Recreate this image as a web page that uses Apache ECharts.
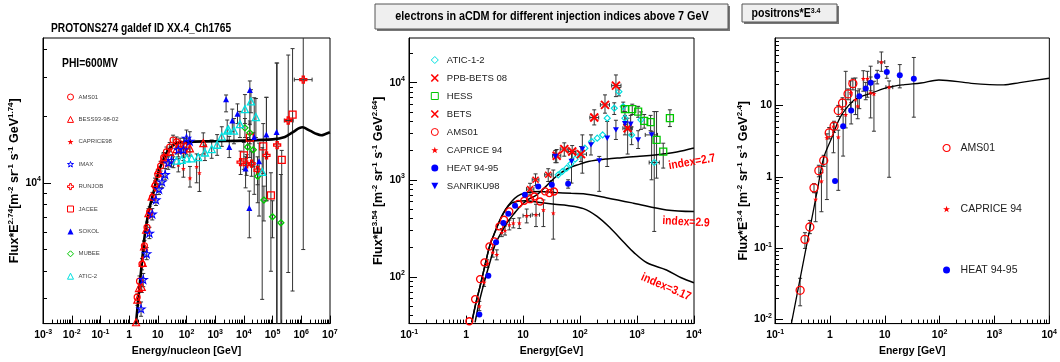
<!DOCTYPE html>
<html><head><meta charset="utf-8">
<script src="https://cdn.jsdelivr.net/npm/echarts@6/dist/echarts.min.js"></script>
<style>html,body{margin:0;padding:0;background:#fff}#c{width:1060px;height:362px}</style>
</head><body><div id="c"></div>
<script>
// ---------------- DATA ----------------
// rows: [E, F, Flow, Fhigh, Elow, Ehigh]
const p1_curve = [[1.72,2300],[2.2,3200],[2.8,4400],[3.6,5960],[5,7600],[7,9000],[10,10900],[15.5,12700],[25,14200],[45,15100],[100,15300],[1000,15400],[1e4,15500],[1e5,15700],[2.7e5,16100],[5e5,16900],[1.1e6,17800],[2e6,17200],[3.5e6,16600],[5e6,16400],[7e6,16600],[1e7,16900]];
const p1_AMS01 = [[1.9,3050],[2.3,3600,3400,3800],[2.8,4300,4050,4550],[3.4,5200,4900,5500],[4.2,6300,5950,6650],[5.2,7400,7000,7800],[6.5,8600,8150,9050],[8,9700,9200,10200],[10,10900,10300,11500],[12.5,11900,11300,12500],[16,13000,12300,13700],[20,13800,13100,14500],[26,14500,13800,15200],[34,15600,14800,16400],[45,15300,14500,16100],[60,15000,14100,15900],[80,14800,13700,15900],[100,14600,13400,15800]];
const p1_BESS = [[1.74,2350],[1.93,2970,2800,3150],[2.2,3350],[2.75,3390,3200,3600],[2.97,4350],[3.3,5160,4900,5450],[3.9,6140],[4.7,7300,6950,7650],[6.1,8670],[8,10000,9500,10500],[10.4,11400],[15.5,12900,12300,13500],[26.6,13800],[45,14200,13500,14900],[78,14100,13200,15000],[132,14300,13200,15400],[385,15100,13500,16800]];
const p1_CAPRICE98 = [[3,4600],[5,7000],[8,9300],[12,10800],[20,12000],[35,12400,11700,13100],[52,12050,11200,12900],[78,11600,10600,12600],[132,10500,9570,11850],[226,11840,10000,13500],[282,11100,9140,13370]];
const p1_IMAX = [[2.6,2700,2500,2900],[3.1,3660,3400,3900],[4.1,4790,4500,5100],[5.1,5930,5600,6300],[6.4,7230,6800,7650],[8.6,8380,7900,8850],[11,9360,8850,9900],[14,10100,9500,10700],[18,10900,10300,11600],[23,12300,11500,13100],[30,12600,11800,13400],[52,14100,13100,15100],[78,14100,13000,15200],[100,15900,14500,17300],[130,15400,13800,17000]];
const p1_RUNJOB = [[7700,12400,10900,13900],[12500,12100,10800,13400],[18600,12200,10700,13800],[30000,11400,9800,13100],[61600,13300,8300,24300],[145000,14800,1000,34700],[353000,19100,3940,37700,257000,525000],[1180000,29200,5000,60000,575000,2400000]];
const p1_JACEE = [[10000,13300,11500,15200],[16200,16000,13000,19000],[47400,14600,11000,18500],[87900,8770,3990,11100],[209000,12700,1500,14000],[500000,20300,3250,40300]];
const p1_SOKOL = [[2400,23800,20900,24900],[3100,14500,13000,16200],[3950,19100,17000,21500],[6000,20500,18500,22700],[11500,11600,9490,13100],[15500,7700,5650,9180],[16200,26200,18300,28800],[23000,16100,8870,24200],[34000,12500,7080,15100],[61000,16500,8300,24300],[138000,16950,1000,34700]];
const p1_MUBEE = [[10900,17700,16000,19500],[13500,14500,13000,16000],[16200,16800,15000,18600],[21400,14100,11800,16800],[30400,10700,8130,11900],[50000,8360,6730,9660],[100000,7030,5650,8300],[195000,6600,1500,10900]];
const p1_ATIC2 = [[45,12600],[68,12700],[102,12900],[150,12900],[257,13050],[441,13700,12600,14800],[755,14200,12900,15600],[1170,14850,13300,16500],[1700,16170,14600,17900],[2630,17200,15500,19200],[2900,17400],[4520,17200,15000,19500],[7300,18400,16000,21000],[10900,21500,18500,25000],[17700,23300,20700,26300],[26300,19800,16000,24000],[43600,11200,2980,14400]];

const p2_c27 = [[1.44,34],[1.7,55],[2.15,94],[2.7,150],[3.23,215],[4.2,290],[5.2,359],[7,450],[8.9,532],[12,620],[17.4,700],[25,850],[36,1050],[60,1300],[100,1450],[140,1540],[300,1640],[537,1690],[1000,1740],[2070,1800],[5000,1930],[10000,2120]];
const p2_c29 = [[1.26,34],[1.5,55],[1.76,80],[2.2,140],[2.64,215],[3.3,300],[3.95,388],[5,500],[6.3,598],[8,680],[10.8,730],[15,752],[19.9,758],[36,740],[70,725],[115,718],[300,650],[870,575],[3300,490],[10000,472]];
const p2_c317 = [[1.26,34],[1.5,55],[1.76,80],[2.2,140],[2.64,215],[3.3,300],[3.95,388],[5,500],[6.3,575],[8,600],[11,608],[17.4,590],[36,560],[60,545],[115,505],[200,420],[340,319],[600,225],[870,180],[1500,140],[3300,118],[6000,98],[10000,87]];
const p2_ATIC = [[41.5,1125],[49,1217],[58.5,1318],[69,1459],[82,1630],[100,1806],[122,2117],[160,2476],[201,2680],[250,2898],[301,4306],[400,5454,4700,6200],[483,8072,7300,8900],[575,5664,5000,6300],[616,4306,3700,5000],[807,2898,2300,3500],[1175,4140,3300,5000],[2014,1506,294,5036,1640,2470]];
const p2_PPB = [[39,1765,1500,2050,33,46],[53,2070,1750,2400,45,62],[73,1955,1650,2250,62,85],[104,1836,1540,2200,83,130],[178,4369,3670,5250,149,213],[275,5907,4850,7480,228,330],[428,9311,7180,12000,360,525],[687,3397,1840,4300,567,828]];
const p2_HESS = [[616,5333,5000,5700],[828,5333,4700,6000],[1050,5036,4400,5700],[1343,4036,3400,4700],[1738,3918,3200,4600],[2213,2576,1040,5036],[2897,1954,1320,2380],[3793,4306,3530,5250]];
const p2_BETS = [[13.3,802,700,920,11.5,15.5],[16.6,1000,870,1150,14.5,19],[27.7,1125,960,1300,24,32]];
const p2_AMS01 = [[1.14,35],[1.44,59],[1.76,95],[2.1,141],[2.57,206],[3.14,232],[3.85,331],[4.64,388],[5.75,472],[8.3,566],[10.5,608],[13.3,631],[15.8,673],[19.9,598],[24.3,760],[29,730],[35,758]];
const p2_CAPRICE94 = [[1.71,50,45,56],[2.07,88,80,97],[2.36,137,125,150],[2.94,179,160,200],[3.46,170,150,190],[4.23,287,260,315],[4.83,301,270,335],[5.75,344,305,385],[6.76,359,320,400],[8.6,359,315,405],[11.6,427,360,500,10,13.5],[16.9,437,330,560,14.5,19.5],[22.8,490,330,620],[34,455,245,1260]];
const p2_HEAT = [[1.71,41],[2.46,103],[3.36,227],[4.52,359],[5.52,448],[7.24,541],[10.8,701],[18.5,853],[32,889,800,980],[62,910,820,1000]];
const p2_SANRIKU = [[37,1737,1500,2000],[71,1542,925,1870],[110,2070,1170,2900],[156,2290,1800,2900],[218,1567,760,1740],[301,2680,1370,3980],[428,3266,2600,4100],[616,3768,2900,4600],[776,3733,2900,4600],[1050,2576,2100,3200],[1811,2898,1000,3130,1400,2300]];

const p3_curve = [[0.198,0.0088],[0.3,0.0456],[0.45,0.224],[0.6,0.70],[0.77,1.85],[1.08,3.51],[1.52,6.68],[2.14,9.75],[3.0,12.4],[5.9,15],[11.7,18],[23,19.6],[45.7,20.6],[97,22.7],[377,20.4],[1470,19.4],[2900,20.9],[10000,24]];
const p3_AMS01 = [[0.286,0.0257,0.0156,0.0379],[0.35,0.133,0.0993,0.165],[0.43,0.198,0.16,0.245],[0.512,0.70,0.6,0.8],[0.628,1.22,1.0,1.45],[0.77,1.69,1.4,2.0],[0.97,4.12,3.4,4.9],[1.19,5.12,4.2,6.0],[1.42,8.46,7.0,10],[1.7,10.8,8.8,12.8],[2.14,14.5,12,17],[2.62,20.2,16.5,24]];
const p3_CAPRICE94 = [[0.548,0.482,0.235,0.597],[0.70,0.87,0.324,1.14],[0.88,3.51,0.48,4.0],[1.16,5.1,2.17,5.7],[1.42,3.59,0.646,4.5],[1.94,7.43,4.84,30],[2.38,15,9,22],[2.92,12.1,7.44,24.2],[3.21,9.75,6.5,16],[4.06,23.7,15.8,30.6],[4.83,23.7,13,30],[5.53,15,6.68,35.4],[6.35,14.5,4.35,21.8],[8.67,40.5,30,56,7.5,10],[12,18,0.985,22,10.5,14]];
const p3_HEAT = [[1.24,0.87],[1.74,5.1,1.95,7.44],[2.44,8.46,5.5,11],[3.43,13.4,9,17],[4.5,17.2,12,21],[5.53,20.7,16,25],[7.28,25.6,20,31],[10.9,29.4,24,35],[18.8,26.4,17.6,37.3],[33.9,23.7,6.84,46.9]];

// axis ranges and tick labels
const x1Range = [0.00099, 1.01e7], y1Range = [2317, 45000];
const x2Range = [0.0995, 10050],  y2Range = [33.1, 28800];
const x3Range = [0.0995, 10050],  y3Range = [0.00879, 87.9];
const x1Labels = [1e-3,1e-2,1e-1,1,10,100,1e3,1e4,1e5,1e6,1e7];
const y1Labels = [1e4];
const x2Labels = [0.1,1,10,100,1e3,1e4];
const y2Labels = [100,1e3,1e4];
const x3Labels = [0.1,1,10,100,1e3,1e4];
const y3Labels = [0.01,0.1,1,10];

// ---------------- STYLE HELPERS ----------------
const FONT = '"Liberation Sans", Arial, sans-serif';
const RED = '#ff0000', BLUE = '#0000ff', GREEN = '#00c800', CYAN = '#00e0e0';
const STAR = 'path://M5,0L6.2,3.6L10,3.6L6.9,5.9L8.1,9.5L5,7.3L1.9,9.5L3.1,5.9L0,3.6L3.8,3.6Z';
const OPENCROSS = 'path://M3.5,0H6.5V3.5H10V6.5H6.5V10H3.5V6.5H0V3.5H3.5Z';
const XMARK = 'path://M0,0L10,10M10,0L0,10';
const DOWNTRI = 'path://M0,0L10,0L5,9Z';

function decades(lo, hi) {
  const maj = [], min = [];
  for (let e = lo; e <= hi; e++) {
    maj.push(Math.pow(10, e));
    if (e < hi) for (let k = 2; k <= 9; k++) min.push(+(k * Math.pow(10, e)).toPrecision(6));
  }
  return { maj, min };
}
function powLabel(v) {
  const e = Math.round(Math.log10(v));
  if (e === 0) return '{b|1}';
  if (e === 1) return '{b|10}';
  return '{b|10}{s|' + e + '}';
}
const tickRich = {
  b: { fontSize: 10.5, fontWeight: 'bold', fontFamily: FONT, lineHeight: 14, color: '#000' },
  s: { fontSize: 7, fontWeight: 'bold', fontFamily: FONT, lineHeight: 8, verticalAlign: 'top', color: '#000' }
};
const nameRich = {
  b: { fontSize: 12.5, fontWeight: 'bold', fontFamily: FONT, lineHeight: 16, color: '#000' },
  s: { fontSize: 8, fontWeight: 'bold', fontFamily: FONT, lineHeight: 9, verticalAlign: 'top', color: '#000' }
};

function axisPair(dim, grid, range, d, labels, name, nameGap, margin, nameStyle) {
  const pos = dim === 'x' ? 'bottom' : 'left';
  const main = {
    type: 'log', logBase: 10, gridIndex: grid, min: range[0], max: range[1], position: pos,
    axisLine: { show: true, onZero: false, lineStyle: { color: '#000', width: 1 } },
    axisTick: { show: true, inside: true, length: 8, customValues: d.maj, lineStyle: { color: '#000', width: 1 } },
    axisLabel: { show: true, customValues: labels, formatter: powLabel, rich: tickRich, margin: margin },
    splitLine: { show: false },
    name: name, nameLocation: 'middle', nameGap: nameGap, nameTextStyle: nameStyle
  };
  const minor = {
    type: 'log', logBase: 10, gridIndex: grid, min: range[0], max: range[1], position: pos,
    axisLine: { show: false, onZero: false },
    axisTick: { show: true, inside: true, length: 4, customValues: d.min, lineStyle: { color: '#000', width: 1 } },
    axisLabel: { show: false },
    splitLine: { show: false }
  };
  return [main, minor];
}

const xNameStyle = { fontSize: 10.5, fontWeight: 'bold', fontFamily: FONT, color: '#000' };
const yNameStyle = { rich: nameRich };

const xAxes = [].concat(
  axisPair('x', 0, x1Range, decades(-3, 7), x1Labels, 'Energy/nucleon [GeV]', 19, 5, xNameStyle),
  axisPair('x', 1, x2Range, decades(-1, 4), x2Labels, 'Energy[GeV]', 19, 5, xNameStyle),
  axisPair('x', 2, x3Range, decades(-1, 4), x3Labels, 'Energy [GeV]', 19, 5, xNameStyle)
);
const yAxes = [].concat(
  axisPair('y', 0, y1Range, decades(3, 5), y1Labels,
    '{b|Flux*E}{s|2.74}{b|[m}{s|-2}{b| sr}{s|-1}{b| s}{s|-1}{b| GeV}{s|1.74}{b|]}', 18, 2, yNameStyle),
  axisPair('y', 1, y2Range, decades(1, 5), y2Labels,
    '{b|Flux*E}{s|3.54}{b| [m}{s|-2}{b| sr}{s|-1}{b| s}{s|-1}{b| GeV}{s|2.64}{b|]}', 19, 4, yNameStyle),
  axisPair('y', 2, y3Range, decades(-3, 2), y3Labels,
    '{b|Flux*E}{s|3.4}{b| [m}{s|-2}{b| sr}{s|-1}{b| s}{s|-1}{b| GeV}{s|2.4}{b|]}', 21, 3, yNameStyle)
);

function errRender(params, api) {
  const x = api.value(0), y = api.value(1);
  const ylo = api.value(2), yhi = api.value(3), xlo = api.value(4), xhi = api.value(5);
  const ch = [];
  const st = { stroke: '#333', lineWidth: 1 };
  if (ylo > 0 && yhi > 0) {
    const a = api.coord([x, ylo]), b = api.coord([x, yhi]);
    ch.push({ type: 'line', shape: { x1: a[0], y1: a[1], x2: b[0], y2: b[1] }, style: st });
    ch.push({ type: 'line', shape: { x1: a[0] - 2, y1: a[1], x2: a[0] + 2, y2: a[1] }, style: st });
    ch.push({ type: 'line', shape: { x1: b[0] - 2, y1: b[1], x2: b[0] + 2, y2: b[1] }, style: st });
  }
  if (xlo > 0 && xhi > 0) {
    const a = api.coord([xlo, y]), b = api.coord([xhi, y]);
    ch.push({ type: 'line', shape: { x1: a[0], y1: a[1], x2: b[0], y2: b[1] }, style: st });
    ch.push({ type: 'line', shape: { x1: a[0], y1: a[1] - 2, x2: a[0], y2: a[1] + 2 }, style: st });
    ch.push({ type: 'line', shape: { x1: b[0], y1: b[1] - 2, x2: b[0], y2: b[1] + 2 }, style: st });
  }
  return { type: 'group', children: ch };
}

const series = [];
function addPoints(panel, name, rows, symbol, size, color, hollow, bw) {
  const ax = panel * 2;
  series.push({
    type: 'custom', name: name + ' err', xAxisIndex: ax, yAxisIndex: ax, clip: true, z: 2,
    dimensions: ['x', 'y', 'ylo', 'yhi', 'xlo', 'xhi'], encode: { x: 0, y: 1 },
    renderItem: errRender, silent: true, data: rows
  });
  series.push({
    type: 'scatter', name: name, xAxisIndex: ax, yAxisIndex: ax, z: 4, clip: true,
    symbol: symbol, symbolSize: size, symbolKeepAspect: true,
    itemStyle: hollow ? { color: 'rgba(0,0,0,0)', borderColor: color, borderWidth: bw || 1.2, opacity: 1 }
                      : { color: color, borderColor: color, borderWidth: bw || 0, opacity: 1 },
    data: rows.map(r => [r[0], r[1]])
  });
}
function addCurve(panel, name, rows, width) {
  const ax = panel * 2;
  series.push({
    type: 'line', name: name, xAxisIndex: ax, yAxisIndex: ax, z: 3, clip: true,
    showSymbol: false, smooth: 0.35, silent: true,
    lineStyle: { color: '#000', width: width }, data: rows
  });
}

addCurve(0, 'model p', p1_curve, 2.6);
addPoints(0, 'AMS01', p1_AMS01, 'circle', 6, RED, true);
addPoints(0, 'BESS93-98-02', p1_BESS, 'triangle', 7, RED, true);
addPoints(0, 'CAPRICE98', p1_CAPRICE98, STAR, 5, RED, false);
addPoints(0, 'IMAX', p1_IMAX, STAR, 8, BLUE, true, 1.1);
addPoints(0, 'RUNJOB', p1_RUNJOB, OPENCROSS, 7, RED, true, 1.3);
addPoints(0, 'JACEE', p1_JACEE, 'rect', 7, RED, true, 1.3);
addPoints(0, 'SOKOL', p1_SOKOL, 'triangle', 6, BLUE, false);
addPoints(0, 'MUBEE', p1_MUBEE, 'diamond', 6, GREEN, true, 1.3);
addPoints(0, 'ATIC-2', p1_ATIC2, 'triangle', 7, CYAN, true, 1.3);

addCurve(1, 'index=2.7', p2_c27, 1.5);
addCurve(1, 'index=2.9', p2_c29, 1.5);
addCurve(1, 'index=3.17', p2_c317, 1.5);
addPoints(1, 'ATIC-1-2', p2_ATIC, 'diamond', 6, CYAN, true, 1.2);
addPoints(1, 'PPB-BETS 08', p2_PPB, XMARK, 8, RED, true, 2);
addPoints(1, 'HESS', p2_HESS, 'rect', 7, GREEN, true, 1.3);
addPoints(1, 'BETS', p2_BETS, XMARK, 6, RED, true, 1.5);
addPoints(1, 'e:AMS01', p2_AMS01, 'circle', 7, RED, true, 1.3);
addPoints(1, 'e:CAPRICE 94', p2_CAPRICE94, STAR, 5, RED, false);
addPoints(1, 'e:HEAT 94-95', p2_HEAT, 'circle', 6, BLUE, false);
addPoints(1, 'SANRIKU98', p2_SANRIKU, DOWNTRI, 6, BLUE, false);

addCurve(2, 'model e+', p3_curve, 1.3);
addPoints(2, 'p:AMS01', p3_AMS01, 'circle', 8, RED, true, 1.3);
addPoints(2, 'p:CAPRICE 94', p3_CAPRICE94, STAR, 5, RED, false);
addPoints(2, 'p:HEAT 94-95', p3_HEAT, 'circle', 6, BLUE, false);

const stripPrefix = n => n.replace(/^[ep]:/, '');
const li = (n, bw) => ({ name: n, itemStyle: { borderWidth: bw } });

const option = {
  backgroundColor: '#fff',
  animation: false,
  grid: [
    { left: 43, top: 38, width: 287, height: 286, show: true, borderColor: '#000', borderWidth: 1, backgroundColor: 'rgba(0,0,0,0)' },
    { left: 409, top: 38, width: 285, height: 286, show: true, borderColor: '#000', borderWidth: 1, backgroundColor: 'rgba(0,0,0,0)' },
    { left: 775, top: 38, width: 282, height: 286, show: true, borderColor: '#000', borderWidth: 1, backgroundColor: 'rgba(0,0,0,0)' }
  ],
  xAxis: xAxes,
  yAxis: yAxes,
  legend: [
    { data: [li('AMS01', 1), li('BESS93-98-02', 1), li('CAPRICE98', 0), li('IMAX', 1), li('RUNJOB', 1),
             li('JACEE', 1), li('SOKOL', 0), li('MUBEE', 1), li('ATIC-2', 1)],
      orient: 'vertical', left: 67, top: 93, padding: 0, itemWidth: 6, itemHeight: 6, itemGap: 14.4,
      selectedMode: false, textStyle: { fontSize: 6, lineHeight: 8, color: '#444', fontFamily: FONT } },
    { data: [li('ATIC-1-2', 1), li('PPB-BETS 08', 1.6), li('HESS', 1), li('BETS', 1.6),
             li('e:AMS01', 1), li('e:CAPRICE 94', 0), li('e:HEAT 94-95', 0), li('SANRIKU98', 0)],
      orient: 'vertical', left: 430.5, top: 54, padding: 0, itemWidth: 7, itemHeight: 7, itemGap: 6,
      selectedMode: false, formatter: stripPrefix,
      textStyle: { fontSize: 9.5, lineHeight: 12, color: '#222', fontFamily: FONT, padding: [0, 0, 0, 3.5] } },
    { data: [li('p:AMS01', 1.1), li('p:CAPRICE 94', 0), li('p:HEAT 94-95', 0)],
      orient: 'vertical', left: 942.5, top: 141, padding: 0, itemWidth: 7, itemHeight: 7, itemGap: 47,
      selectedMode: false, formatter: stripPrefix,
      textStyle: { fontSize: 10.5, lineHeight: 14, color: '#222', fontFamily: FONT, padding: [0, 0, 0, 5.5] } }
  ],
  graphic: [
    { type: 'text', x: 51, y: 29, scaleX: 0.85, z: 10,
      style: { text: 'PROTONS274 galdef ID XX.4_Ch1765', font: 'bold 12px ' + FONT, fill: '#000', align: 'left', verticalAlign: 'middle' } },
    { type: 'text', x: 62, y: 64, scaleX: 0.86, z: 10,
      style: { text: 'PHI=600MV', font: 'bold 12px ' + FONT, fill: '#000', align: 'left', verticalAlign: 'middle' } },
    { type: 'rect', shape: { x: 377, y: 6, width: 353, height: 25 }, style: { fill: '#777' }, z: 9 },
    { type: 'rect', shape: { x: 375, y: 4, width: 353, height: 25 }, style: { fill: '#efefef', stroke: '#555', lineWidth: 1 }, z: 10 },
    { type: 'text', x: 552, y: 17, scaleX: 0.9, z: 11,
      style: { text: 'electrons in aCDM for different injection indices above 7 GeV', font: 'bold 12px ' + FONT, fill: '#000', align: 'center', verticalAlign: 'middle' } },
    { type: 'rect', shape: { x: 744, y: 6, width: 95, height: 18 }, style: { fill: '#777' }, z: 9 },
    { type: 'rect', shape: { x: 742, y: 4, width: 95, height: 18 }, style: { fill: '#efefef', stroke: '#555', lineWidth: 1 }, z: 10 },
    { type: 'text', x: 786, y: 14, scaleX: 0.88, z: 11,
      style: { text: '{b|positrons*E}{s|3.4}', align: 'center', verticalAlign: 'middle',
        rich: { b: { font: 'bold 12px ' + FONT, fill: '#000', lineHeight: 15 },
                s: { font: 'bold 8px ' + FONT, fill: '#000', lineHeight: 9, verticalAlign: 'top' } } } },
    { type: 'text', x: 692, y: 162, rotation: 10 * Math.PI / 180, scaleX: 0.86, z: 11,
      style: { text: 'index=2.7', font: 'bold 12px ' + FONT, fill: '#ff0000', align: 'center', verticalAlign: 'middle' } },
    { type: 'text', x: 686, y: 222, rotation: -3 * Math.PI / 180, scaleX: 0.86, z: 11,
      style: { text: 'index=2.9', font: 'bold 12px ' + FONT, fill: '#ff0000', align: 'center', verticalAlign: 'middle' } },
    { type: 'text', x: 666, y: 287, rotation: -23 * Math.PI / 180, scaleX: 0.86, z: 11,
      style: { text: 'index=3.17', font: 'bold 12px ' + FONT, fill: '#ff0000', align: 'center', verticalAlign: 'middle' } }
  ],
  series: series
};

const chart = echarts.init(document.getElementById('c'), null, { renderer: 'canvas' });
chart.setOption(option);
</script></body></html>
